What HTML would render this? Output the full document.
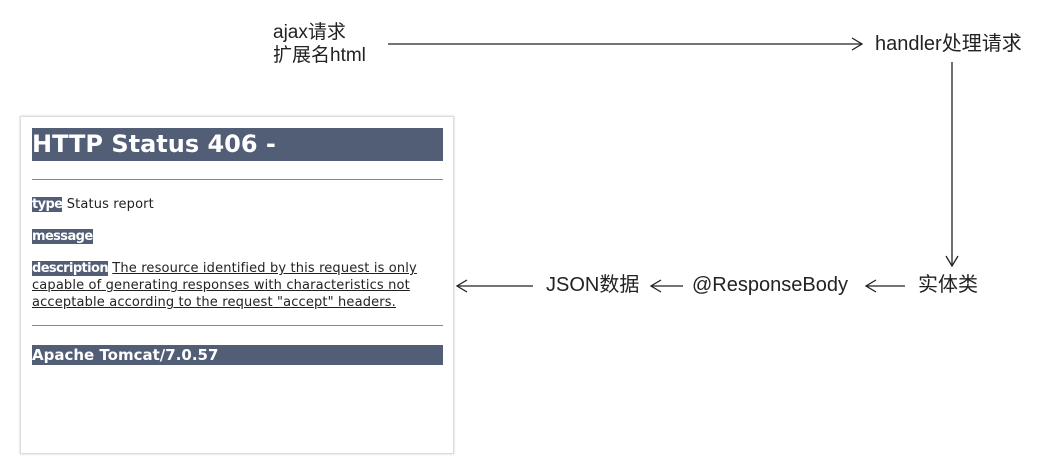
<!DOCTYPE html>
<html><head><meta charset="utf-8"><style>
body{margin:0;width:1057px;height:464px;background:#fff;position:relative;overflow:hidden;font-family:"Liberation Sans","Noto Sans CJK SC",sans-serif;}
.t{position:absolute;font-size:20px;color:#222;white-space:nowrap;line-height:22px}
.box{position:absolute;left:20px;top:116px;width:432px;height:336px;border:1px solid #ddd;box-shadow:0 0 2px #ccc;background:#fff}
.bar{position:absolute;left:11px;width:411px;background:#525d76;color:#fff;font-family:"DejaVu Sans",sans-serif;font-weight:bold}
.hr{position:absolute;left:11px;width:411px;height:1px;background:#888}
.s{position:absolute;left:11px;font-family:"DejaVu Sans",sans-serif;font-size:13px;color:#222;line-height:17px;letter-spacing:0.15px}
.lb{background:#525d76;color:#fff;font-weight:bold;letter-spacing:-0.6px}
u{text-decoration:underline}
</style></head><body>
<div class="t" style="left:273px;top:22px;font-size:19px">ajax请求</div>
<div class="t" style="left:273px;top:45px;font-size:19px">扩展名html</div>
<div class="t" style="left:875px;top:33px">handler处理请求</div>
<div class="t" style="left:918px;top:274px">实体类</div>
<div class="t" style="left:692px;top:274px">@ResponseBody</div>
<div class="t" style="left:546px;top:274px">JSON数据</div>
<svg style="position:absolute;left:0;top:0" width="1057" height="464">
<g stroke="#222" stroke-width="1.3" fill="none">
<line x1="388" y1="44" x2="862" y2="44"/><polyline points="852,38 862,44 852,50"/>
<line x1="952" y1="62" x2="952" y2="266"/><polyline points="946,256 952,266 958,256"/>
<line x1="866" y1="286" x2="905" y2="286"/><polyline points="876,280 866,286 876,292"/>
<line x1="651" y1="286" x2="683" y2="286"/><polyline points="661,280 651,286 661,292"/>
<line x1="457" y1="286" x2="533" y2="286"/><polyline points="467,280 457,286 467,292"/>
</g></svg>
<div class="box">
<div class="bar" style="top:11px;height:33px;font-size:24px;line-height:33px">HTTP Status 406 -</div>
<div class="hr" style="top:62px"></div>
<div class="s" style="top:79px"><span class="lb">type</span> Status report</div>
<div class="s" style="top:111px"><span class="lb">message</span></div>
<div class="s" style="top:143px;width:411px"><span class="lb">description</span> <u>The resource identified by this request is only capable of generating responses with characteristics not acceptable according to the request "accept" headers.</u></div>
<div class="hr" style="top:208px"></div>
<div class="bar" style="top:228px;height:20px;font-size:15px;line-height:20px">Apache Tomcat/7.0.57</div>
</div>
</body></html>
